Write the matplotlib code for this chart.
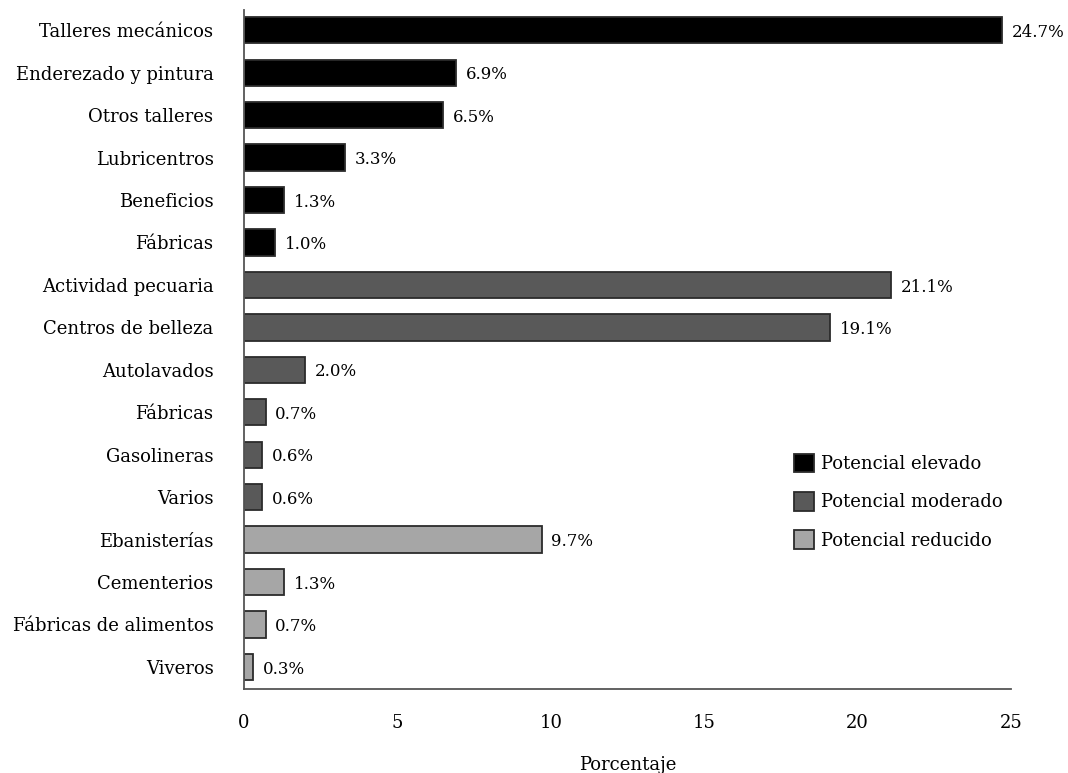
import numpy as np
import matplotlib
matplotlib.use("Agg")
import matplotlib.pyplot as plt
from matplotlib.patches import Patch

plt.rcParams['font.family'] = ['DejaVu Serif']

categorias = ["Talleres mecánicos", "Enderezado y pintura", "Otros talleres", "Lubricentros",
              "Beneficios", "Fábricas", "Actividad pecuaria", "Centros de belleza",
              "Autolavados", "Fábricas", "Gasolineras", "Varios", "Ebanisterías",
              "Cementerios", "Fábricas de alimentos", "Viveros"]
valores = [24.7, 6.9, 6.5, 3.3, 1.3, 1.0, 21.1, 19.1, 2.0, 0.7, 0.6, 0.6, 9.7, 1.3, 0.7, 0.3]
grupos = [0] * 6 + [1] * 6 + [2] * 4
nombres_grupo = ["Potencial elevado", "Potencial moderado", "Potencial reducido"]
colores = ["#000000", "#595959", "#a6a6a6"]

fs = 13

fig = plt.figure(figsize=(10.68, 7.73), dpi=100)
ax = fig.add_axes([0.2285, 0.1087, 0.718, 0.878])

y = np.arange(len(categorias))
ax.barh(y, valores, height=0.62, color=[colores[g] for g in grupos],
        edgecolor="#2b2b2b", linewidth=1.3)

for yi, v in zip(y, valores):
    ax.text(v + 0.32, yi + 0.05, f"{v:.1f}%", va="center", ha="left", fontsize=12)

ax.set_yticks(y)
ax.set_yticklabels(categorias, fontsize=fs)
ax.set_ylim(15.52, -0.47)
ax.set_xlim(0, 25)
ax.set_xticks([0, 5, 10, 15, 20, 25])
ax.tick_params(axis="both", length=0, labelsize=fs)
ax.tick_params(axis="y", pad=22)
ax.tick_params(axis="x", pad=18)
ax.set_xlabel("Porcentaje", fontsize=fs, labelpad=17)

for s in ["top", "right"]:
    ax.spines[s].set_visible(False)
for s in ["left", "bottom"]:
    ax.spines[s].set_color("#555555")
    ax.spines[s].set_linewidth(1.3)

handles = [Patch(facecolor=c, edgecolor="#2b2b2b", linewidth=1.3) for c in colores]
fig.legend(handles, nombres_grupo, loc="upper left", bbox_to_anchor=(0.728, 0.434),
           frameon=False, fontsize=fs, handlelength=1.1, handleheight=1.2,
           handletextpad=0.4, labelspacing=1.05)

fig.savefig("out.png", dpi=100)
